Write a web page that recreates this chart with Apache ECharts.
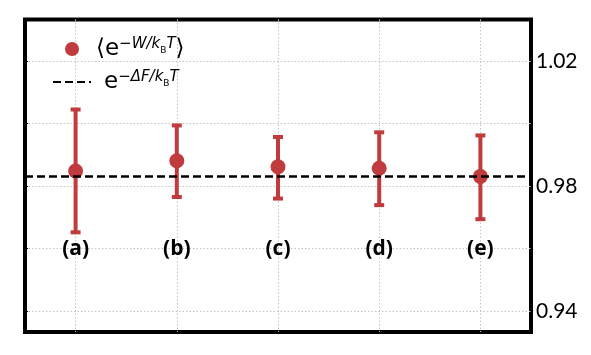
<!DOCTYPE html>
<html>
<head>
<meta charset="utf-8">
<script src="https://cdn.jsdelivr.net/npm/echarts@6/dist/echarts.min.js"></script>
<style>html,body{margin:0;padding:0;background:#fff}#c{width:591px;height:355px}</style>
</head>
<body>
<div id="c"></div>
<script>
// ---- data ----
const categories = ['(a)', '(b)', '(c)', '(d)', '(e)'];
const meanValues = [0.9848, 0.9881, 0.9862, 0.9857, 0.9831];
const lowValues  = [0.9652, 0.9765, 0.9760, 0.9739, 0.9694];
const highValues = [1.0045, 0.9994, 0.9957, 0.9972, 0.9962];
const freeEnergyLevel = 0.9833;
const yTicks = [0.94, 0.96, 0.98, 1.00, 1.02];
const yTickLabels = [0.94, 0.98, 1.02];
const labelLevel = 0.96;
const yMin = 0.9333, yMax = 1.0333;

const RED = '#BF3B3D';
const chart = echarts.init(document.getElementById('c'), null, {renderer: 'canvas'});

const gridLine = {show: true, lineStyle: {color: '#c4c4c4', width: 1, type: [1.5, 2]}};

const option = {
  animation: false,
  grid: {left: 25, right: 60, top: 19.5, bottom: 23, show: true, borderColor: '#000', borderWidth: 4, backgroundColor: 'transparent'},
  xAxis: {
    type: 'value', min: -0.5, max: categories.length - 0.5,
    axisLine: {show: false},
    axisTick: {show: false, customValues: categories.map((c, i) => i)},
    axisLabel: {show: false},
    splitLine: gridLine
  },
  yAxis: [{
    type: 'value', position: 'right', min: yMin, max: yMax,
    axisLine: {show: false},
    axisTick: {show: false, customValues: yTicks},
    axisLabel: {show: true, customValues: yTickLabels, margin: 5, color: '#000', fontFamily: 'Lato', fontSize: 21,
      padding: [0, 0, 3, 0], formatter: v => v.toFixed(2)},
    splitLine: gridLine
  }, {
    type: 'value', position: 'left', min: yMin, max: yMax,
    axisLine: {show: false},
    axisTick: {show: true, inside: true, length: 3, lineStyle: {color: '#000', width: 1}, customValues: yTicks},
    axisLabel: {show: false},
    splitLine: {show: false}
  }],
  legend: {
    orient: 'vertical', left: 52, top: 37, padding: 0, itemWidth: 38, itemHeight: 14, itemGap: 9,
    selectedMode: false,
    data: [
      {name: 'mean'},
      {name: 'free', itemStyle: {opacity: 0, borderWidth: 0}}
    ],
    formatter: function (name) {
      if (name === 'mean') return '{m|⟨e}{s|−}{si|W/k}{sb|B}{si|T}{m|⟩}';
      return '{m2|e}{s|−}{si|ΔF/k}{sb|B}{si|T}';
    },
    textStyle: {
      color: '#000', lineHeight: 24, fontSize: 24,
      rich: {
        m: {fontFamily: 'DejaVu Sans', fontSize: 23, lineHeight: 24, color: '#000'},
        m2: {fontFamily: 'DejaVu Sans', fontSize: 23, lineHeight: 24, color: '#000', padding: [0, 0, 0, 8]},
        s: {fontFamily: 'DejaVu Sans', fontSize: 15, lineHeight: 15, verticalAlign: 'top', color: '#000'},
        si: {fontFamily: 'DejaVu Sans', fontSize: 15, fontStyle: 'italic', lineHeight: 15, verticalAlign: 'top', color: '#000'},
        sb: {fontFamily: 'DejaVu Sans', fontSize: 9, lineHeight: 9, verticalAlign: 'top', padding: [9, 0, 0, 0], color: '#000'}
      }
    }
  },
  series: [
    {
      name: 'errorbars', type: 'custom', z: 3,
      data: categories.map((c, i) => [i, lowValues[i], highValues[i]]),
      encode: {x: 0, y: [1, 2]},
      renderItem: function (params, api) {
        const x = api.value(0);
        const lo = api.coord([x, api.value(1)]);
        const hi = api.coord([x, api.value(2)]);
        const capHalf = 5;
        const style = {stroke: RED, lineWidth: 4, fill: null};
        return {
          type: 'group',
          children: [
            {type: 'line', shape: {x1: lo[0], y1: lo[1], x2: hi[0], y2: hi[1]}, style: style},
            {type: 'line', shape: {x1: hi[0] - capHalf, y1: hi[1], x2: hi[0] + capHalf, y2: hi[1]}, style: style},
            {type: 'line', shape: {x1: lo[0] - capHalf, y1: lo[1], x2: lo[0] + capHalf, y2: lo[1]}, style: style}
          ]
        };
      }
    },
    {
      name: 'mean', type: 'scatter', z: 4,
      symbol: 'circle', symbolSize: 15,
      itemStyle: {color: RED, opacity: 1},
      data: categories.map((c, i) => [i, meanValues[i]])
    },
    {
      name: 'labels', type: 'scatter', z: 5, symbolSize: 0,
      itemStyle: {opacity: 0},
      data: categories.map((c, i) => ({value: [i, labelLevel], name: c})),
      label: {show: true, position: 'inside', formatter: p => p.name, color: '#000', opacity: 1,
        fontFamily: 'Open Sans', fontWeight: 'bold', fontSize: 21}
    },
    {
      name: 'free', type: 'line', z: 6, data: [], symbol: 'none',
      lineStyle: {color: '#000', width: 2.5, type: [8, 4]},
      itemStyle: {color: '#000'},
      markLine: {
        silent: true, precision: 6, symbol: ['none', 'none'], label: {show: false},
        lineStyle: {color: '#000', width: 2.5, type: [8, 4]},
        data: [{yAxis: freeEnergyLevel}]
      }
    }
  ]
};
chart.setOption(option);
</script>
</body>
</html>
